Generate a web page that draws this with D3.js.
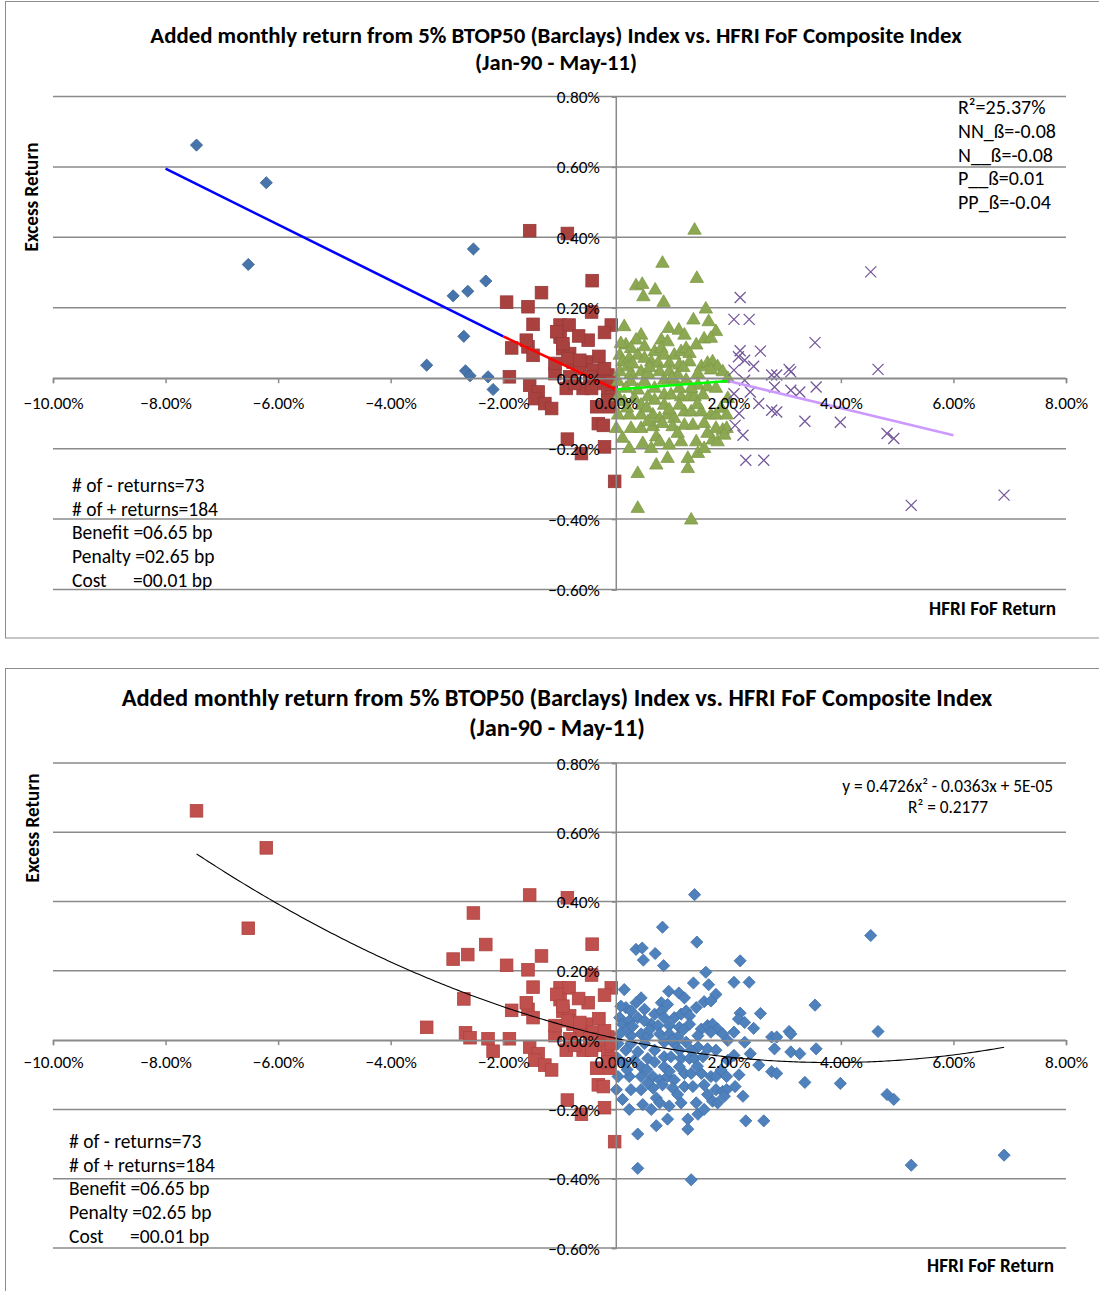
<!DOCTYPE html>
<html>
<head>
<meta charset="utf-8">
<script src="https://cdn.jsdelivr.net/npm/d3@7"></script>
<style>
  body { margin: 0; background: #fff; }
  text { font-family: Carlito, Lato, "Open Sans", sans-serif; fill: #000; }
</style>
</head>
<body>
<svg id="chart" width="1099" height="1291"></svg>
<script>
// ---------------------------------------------------------------------------
// Data (returns in %)

const xTicks = [-10, -8, -6, -4, -2, 0, 2, 4, 6, 8];
const yTicks = [0.8, 0.6, 0.4, 0.2, 0, -0.2, -0.4, -0.6];

const titleLines = ['Added monthly return from 5% BTOP50 (Barclays) Index vs. HFRI FoF Composite Index', '(Jan-90 - May-11)'];
const yTitle = 'Excess Return';
const xTitle = 'HFRI FoF Return';
const statLines = ['# of - returns=73', '# of + returns=184', 'Benefit =06.65 bp', 'Penalty =02.65 bp', 'Cost      =00.01 bp'];
const betaLines = ['R\u00b2=25.37%', 'NN_\u00df=-0.08', 'N__\u00df=-0.08', 'P__\u00df=0.01', 'PP_\u00df=-0.04'];
const fitLines = ['y = 0.4726x\u00b2 - 0.0363x + 5E-05', 'R\u00b2 = 0.2177'];

// HFRI below -2%
const nnPoints = [[-7.45, 0.662], [-6.21, 0.555], [-6.53, 0.323], [-2.53, 0.367], [-2.31, 0.276], [-2.89, 0.234],
  [-2.63, 0.247], [-2.70, 0.119], [-3.36, 0.037], [-2.67, 0.021], [-2.59, 0.007], [-2.27, 0.004], [-2.18, -0.032]];

// HFRI between -2% and 0%
const nPoints = [[-1.53, 0.419], [-0.86, 0.411], [-0.42, 0.277], [-1.32, 0.243], [-1.94, 0.216], [-1.56, 0.203],
  [-0.43, 0.188], [-1.47, 0.153], [-0.99, 0.151], [-0.83, 0.151], [-0.08, 0.151], [-0.20, 0.130], [-0.99, 0.117],
  [-0.49, 0.108], [-1.85, 0.086], [-1.56, 0.089], [-1.47, 0.065], [-0.94, 0.084], [-0.82, 0.070], [-0.76, 0.046],
  [-0.52, 0.046], [-1.08, 0.013], [-0.64, 0.027], [-0.40, 0.023], [-1.89, 0.004], [-0.88, -0.029], [-0.58, -0.029],
  [-0.22, -0.001], [-0.14, 0.009], [-1.53, -0.020], [-1.38, -0.039], [-1.44, -0.058], [-1.26, -0.072], [-1.14, -0.086],
  [-0.34, -0.081], [-0.11, -0.081], [-0.31, -0.129], [-0.22, -0.134], [-0.86, -0.173], [-0.20, -0.195], [-0.61, -0.214],
  [-0.02, -0.293], [-1.05, 0.132], [-0.94, 0.098], [-0.85, 0.056], [-0.64, 0.051], [-0.46, 0.004], [-0.28, -0.015],
  [-0.14, -0.034], [-0.08, -0.053], [-0.43, -0.029], [-1.08, 0.042], [-0.82, 0.004], [-0.20, 0.027], [-1.59, 0.108],
  [-0.14, -0.063], [-0.73, -0.015], [-0.08, -0.010], [-0.30, 0.062], [-0.66, 0.120]];

// HFRI between 0% and 2%
const pPoints = [[1.40, 0.420], [0.83, 0.326], [1.44, 0.283], [0.36, 0.262], [0.47, 0.266], [0.70, 0.250], [0.49, 0.231],
  [0.85, 0.215], [1.60, 0.196], [1.38, 0.165], [1.65, 0.160], [0.15, 0.146], [0.94, 0.141], [1.12, 0.136], [1.78, 0.132],
  [0.45, 0.122], [0.36, 0.108], [0.81, 0.108], [0.92, 0.103], [1.57, 0.111], [0.18, 0.094], [0.27, 0.084], [0.07, 0.065],
  [0.12, 0.046], [0.24, 0.056], [0.69, 0.075], [0.81, 0.084], [0.86, 0.065], [1.04, 0.065], [1.16, 0.075], [1.25, 0.084],
  [1.31, 0.070], [0.63, 0.046], [0.75, 0.042], [0.95, 0.042], [1.13, 0.037], [1.31, 0.046], [1.52, 0.032], [1.63, 0.042],
  [1.72, 0.046], [1.81, 0.032], [1.90, 0.018], [1.69, 0.023], [1.46, 0.013], [0.27, 0.013], [0.45, 0.018], [0.07, 0.018],
  [0.04, -0.010], [0.27, -0.010], [0.51, -0.010], [0.86, -0.006], [1.04, -0.010], [1.25, -0.006], [1.46, -0.020],
  [1.63, -0.025], [1.78, -0.029], [0.04, -0.053], [0.15, -0.067], [0.33, -0.058], [0.57, -0.053], [0.69, -0.063],
  [0.86, -0.048], [0.98, -0.048], [1.16, -0.053], [1.31, -0.053], [1.40, -0.053], [1.55, -0.048], [1.99, -0.058],
  [0.04, -0.105], [0.24, -0.105], [0.45, -0.105], [0.66, -0.105], [0.78, -0.115], [0.92, -0.105], [1.04, -0.115],
  [1.22, -0.096], [1.34, -0.096], [1.52, -0.096], [1.69, -0.105], [1.78, -0.105], [0.01, -0.143], [0.27, -0.143],
  [0.45, -0.143], [0.66, -0.138], [0.83, -0.129], [1.01, -0.138], [1.22, -0.134], [1.37, -0.134], [1.57, -0.129],
  [1.78, -0.143], [1.90, -0.148], [1.97, -0.143], [0.12, -0.171], [0.48, -0.186], [0.72, -0.167], [0.78, -0.181],
  [1.16, -0.181], [1.43, -0.181], [1.72, -0.176], [1.81, -0.181], [1.93, -0.162], [0.92, -0.228], [1.28, -0.228],
  [1.46, -0.214], [0.72, -0.247], [0.39, -0.271], [1.28, -0.257], [0.39, -0.370], [1.34, -0.403], [0.09, 0.098],
  [0.39, 0.065], [0.51, 0.056], [0.21, 0.032], [0.57, 0.013], [0.78, 0.018], [0.95, 0.018], [1.10, 0.009], [0.69, -0.029],
  [0.39, -0.034], [0.18, -0.029], [1.13, -0.029], [1.34, -0.029], [0.45, -0.077], [0.86, -0.077], [1.13, -0.077],
  [1.87, -0.086], [0.57, -0.124], [1.10, -0.157], [1.63, -0.157], [0.24, -0.200], [0.95, -0.190], [1.57, -0.200],
  [0.63, -0.200], [1.69, 0.113], [1.99, -0.001], [1.97, -0.105], [1.22, 0.122], [1.43, 0.094], [0.51, 0.089],
  [0.30, 0.040], [0.60, 0.030], [1.00, 0.000], [1.20, 0.030], [0.55, -0.085], [0.95, -0.090], [1.45, -0.075], [0.20, -0.085]];

// HFRI above 2%
const ppPoints = [[4.53, 0.302], [2.21, 0.229], [2.10, 0.167], [2.37, 0.167], [3.54, 0.101], [4.66, 0.025], [2.21, 0.078],
  [2.57, 0.077], [2.18, 0.061], [2.29, 0.051], [2.45, 0.034], [2.10, 0.023], [2.77, 0.009], [2.86, 0.009], [3.08, 0.025],
  [3.11, 0.018], [3.11, -0.034], [3.27, -0.039], [3.56, -0.025], [2.29, -0.006], [2.39, -0.039], [2.82, -0.025],
  [2.10, -0.044], [2.54, -0.072], [2.77, -0.091], [2.86, -0.096], [2.19, -0.100], [3.36, -0.122], [3.99, -0.125],
  [2.12, -0.134], [2.26, -0.162], [4.82, -0.157], [4.94, -0.171], [2.31, -0.233], [2.63, -0.233], [5.25, -0.361],
  [6.90, -0.332]];

// piecewise regression segments (end points)
const nnTrend = [[-8, 0.595], [-2, 0.119]];
const nTrend = [[-2, 0.119], [0, -0.032]];
const pTrend = [[0, -0.032], [2, -0.008]];
const ppTrend = [[2, -0.008], [6, -0.162]];

// polynomial fit, x and y as decimals: a*x^2 + b*x + c
const polyCoef = [0.4726, -0.0363, 0.00005];

// ---------------------------------------------------------------------------
// Drawing

const svg = d3.select('#chart');
const gridColor = '#8a8a8a';

function sizeFor(str, weight, width) {
  const probe = svg.append('text').attr('font-size', 100).attr('font-weight', weight).text(str);
  const w = probe.node().getComputedTextLength();
  probe.remove();
  return 100 * width / w;
}

const tickSize = sizeFor('-10.00%', 'normal', 57);

function drawPanel(p) {
  const g = svg.append('g');
  const x = d3.scaleLinear().domain([-10, 8]).range([53, 1066]);
  const y = d3.scaleLinear().domain([-0.6, 0.8]).range([p.bottom, p.top]);

  g.append('rect')
    .attr('x', 5.5).attr('y', p.frameTop)
    .attr('width', 1100).attr('height', p.frameHeight)
    .attr('fill', '#fff').attr('stroke', '#8c8c8c');

  g.selectAll('.grid').data(yTicks).enter().append('line')
    .attr('class', 'grid')
    .attr('x1', x(-10)).attr('x2', x(8))
    .attr('y1', (d) => y(d)).attr('y2', (d) => y(d))
    .attr('stroke', gridColor).attr('stroke-width', 1.5);

  const markers = g.append('g');
  const lines = g.append('g');

  const xAxis = g.append('g')
    .attr('transform', `translate(0,${y(0)})`)
    .call(d3.axisBottom(x).tickValues(xTicks).tickSize(5).tickFormat((d) => d3.format('.2f')(d) + '%'));
  xAxis.select('.domain').attr('stroke', gridColor).attr('stroke-width', 1.5);
  xAxis.selectAll('.tick line').attr('stroke', gridColor).attr('stroke-width', 1.5);
  xAxis.selectAll('.tick text')
    .attr('y', p.xLabelOffset).attr('dy', '0.35em')
    .attr('font-size', tickSize).attr('font-family', null);

  const yAxis = g.append('g')
    .attr('transform', `translate(${x(0)},0)`)
    .call(d3.axisLeft(y).tickValues(yTicks).tickSize(4).tickPadding(12).tickFormat((d) => d3.format('.2f')(d) + '%'));
  yAxis.select('.domain').attr('stroke', gridColor).attr('stroke-width', 1.5);
  yAxis.selectAll('.tick line').attr('stroke', gridColor).attr('stroke-width', 1.5);
  yAxis.selectAll('.tick text')
    .attr('dy', '0.35em')
    .attr('font-size', tickSize).attr('font-family', null);

  // titles
  titleLines.forEach((t, i) => {
    g.append('text')
      .attr('x', p.titleX).attr('y', p.titleY[i]).attr('dy', '0.35em')
      .attr('text-anchor', 'middle').attr('font-weight', 'bold')
      .attr('font-size', sizeFor(t, 'bold', p.titleWidth[i]))
      .text(t);
  });

  g.append('text')
    .attr('transform', `translate(${p.yTitlePos[0]},${p.yTitlePos[1]}) rotate(-90)`)
    .attr('dy', '0.35em').attr('text-anchor', 'middle').attr('font-weight', 'bold')
    .attr('font-size', sizeFor(yTitle, 'bold', 109))
    .text(yTitle);

  g.append('text')
    .attr('x', p.xTitlePos[0]).attr('y', p.xTitlePos[1]).attr('dy', '0.35em')
    .attr('text-anchor', 'end').attr('font-weight', 'bold')
    .attr('font-size', sizeFor(xTitle, 'bold', 127))
    .text(xTitle);

  const statSize = sizeFor(statLines[1], 'normal', 146);
  g.selectAll('.stat').data(statLines).enter().append('text')
    .attr('class', 'stat')
    .attr('x', p.statX).attr('y', (d, i) => p.statY + i * 23.8).attr('dy', '0.35em')
    .attr('font-size', statSize).style('white-space', 'pre')
    .text((d) => d);

  return { g, x, y, markers, lines };
}

function diamonds(sel, data, x, y, fill, stroke) {
  sel.selectAll(null).data(data).enter().append('path')
    .attr('d', d3.symbol(d3.symbolSquare, 74)())
    .attr('transform', (d) => `translate(${x(d[0])},${y(d[1])}) rotate(45)`)
    .attr('fill', fill).attr('stroke', stroke).attr('stroke-width', 0.8);
}

function squares(sel, data, x, y, fill, stroke) {
  sel.selectAll(null).data(data).enter().append('rect')
    .attr('x', (d) => x(d[0]) - 6.3).attr('y', (d) => y(d[1]) - 6.3)
    .attr('width', 12.6).attr('height', 12.6)
    .attr('fill', fill).attr('stroke', stroke).attr('stroke-width', 0.8);
}

// ---- top chart: four regimes
const topChart = drawPanel({
  frameTop: 1.5, frameHeight: 636.5, top: 96.5, bottom: 589.5, xLabelOffset: 25,
  titleX: 556, titleY: [35, 62], titleWidth: [812, 162],
  yTitlePos: [31, 197], xTitlePos: [1056, 608], statX: 72, statY: 485
});

diamonds(topChart.markers, nnPoints, topChart.x, topChart.y, '#4674AB', '#3A6496');
squares(topChart.markers, nPoints, topChart.x, topChart.y, '#A9423F', '#96393A');
topChart.markers.selectAll(null).data(pPoints).enter().append('path')
  .attr('d', d3.symbol(d3.symbolTriangle, 78)())
  .attr('transform', (d) => `translate(${topChart.x(d[0])},${topChart.y(d[1])})`)
  .attr('fill', '#8CA853').attr('stroke', '#7F9B48').attr('stroke-width', 0.8);
topChart.markers.selectAll(null).data(ppPoints).enter().append('path')
  .attr('d', 'M-5.5,-5.5L5.5,5.5M-5.5,5.5L5.5,-5.5')
  .attr('transform', (d) => `translate(${topChart.x(d[0])},${topChart.y(d[1])})`)
  .attr('fill', 'none').attr('stroke', '#76599A').attr('stroke-width', 1.3);

const topLine = d3.line().x((d) => topChart.x(d[0])).y((d) => topChart.y(d[1]));
[[nnTrend, '#0000FF'], [nTrend, '#FF0000'], [pTrend, '#00FF00'], [ppTrend, '#CC99FF']].forEach(([seg, c]) => {
  topChart.lines.append('path').attr('d', topLine(seg))
    .attr('fill', 'none').attr('stroke', c).attr('stroke-width', 2.6);
});

const betaSize = sizeFor(betaLines[1], 'normal', 98);
topChart.g.selectAll('.beta').data(betaLines).enter().append('text')
  .attr('class', 'beta')
  .attr('x', 958).attr('y', (d, i) => 107 + i * 23.8).attr('dy', '0.35em')
  .attr('font-size', betaSize)
  .text((d) => d);

// ---- bottom chart: negative vs positive months with quadratic fit
const bottomChart = drawPanel({
  frameTop: 668.5, frameHeight: 700, top: 763, bottom: 1248, xLabelOffset: 22,
  titleX: 557, titleY: [697, 727], titleWidth: [871, 176],
  yTitlePos: [32, 828], xTitlePos: [1054, 1265], statX: 69, statY: 1141
});

const negatives = nnPoints.concat(nPoints);
const positives = pPoints.concat(ppPoints);

diamonds(bottomChart.markers, positives, bottomChart.x, bottomChart.y, '#4F81BD', '#4272AC');
squares(bottomChart.markers, negatives, bottomChart.x, bottomChart.y, '#C0504D', '#AE4441');

const xExtent = d3.extent(negatives.concat(positives), (d) => d[0]);
const polyY = (xp) => {
  const xd = xp / 100;
  return 100 * (polyCoef[0] * xd * xd + polyCoef[1] * xd + polyCoef[2]);
};
const curve = d3.range(xExtent[0], xExtent[1], 0.05).concat([xExtent[1]]).map((xp) => [xp, polyY(xp)]);
bottomChart.lines.append('path')
  .attr('d', d3.line().x((d) => bottomChart.x(d[0])).y((d) => bottomChart.y(d[1]))(curve))
  .attr('fill', 'none').attr('stroke', '#000').attr('stroke-width', 1.1);

const fitSize = sizeFor(fitLines[0], 'normal', 211);
bottomChart.g.append('text')
  .attr('x', 1053).attr('y', 786).attr('dy', '0.35em')
  .attr('text-anchor', 'end').attr('font-size', fitSize)
  .text(fitLines[0]);
bottomChart.g.append('text')
  .attr('x', 948).attr('y', 807).attr('dy', '0.35em')
  .attr('text-anchor', 'middle').attr('font-size', fitSize)
  .text(fitLines[1]);
</script>
</body>
</html>
